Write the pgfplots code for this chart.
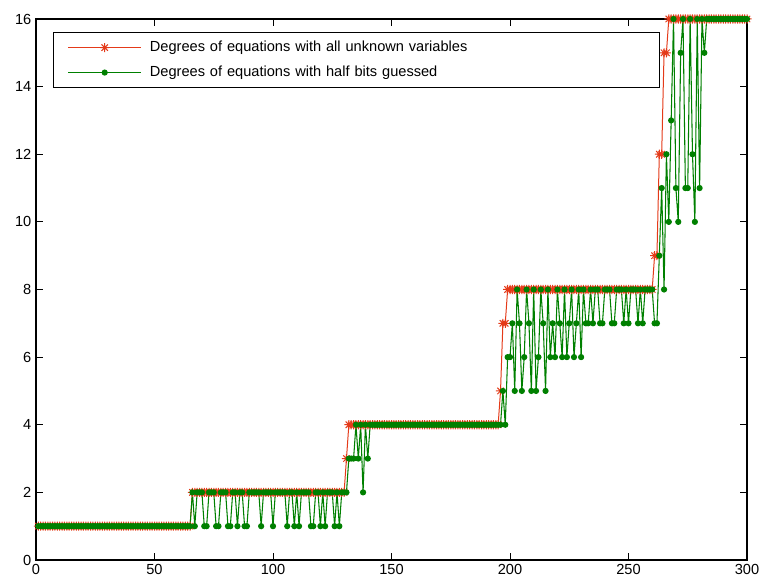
\documentclass[border=0pt]{standalone}
\usepackage{fontspec}
\setmainfont{Liberation Sans}
\usepackage{pgfplots}
\usepackage{pgfplotstable}
\pgfplotsset{compat=1.18}
\definecolor{mred}{RGB}{228,58,25}
\definecolor{mgreen}{RGB}{0,128,0}
\pgfdeclareplotmark{mstar}{%
 \pgfpathmoveto{\pgfqpoint{-\pgfplotmarksize}{0pt}}\pgfpathlineto{\pgfqpoint{\pgfplotmarksize}{0pt}}%
 \pgfpathmoveto{\pgfqpoint{0pt}{-\pgfplotmarksize}}\pgfpathlineto{\pgfqpoint{0pt}{\pgfplotmarksize}}%
 \pgfpathmoveto{\pgfqpoint{-.7071\pgfplotmarksize}{-.7071\pgfplotmarksize}}\pgfpathlineto{\pgfqpoint{.7071\pgfplotmarksize}{.7071\pgfplotmarksize}}%
 \pgfpathmoveto{\pgfqpoint{-.7071\pgfplotmarksize}{.7071\pgfplotmarksize}}\pgfpathlineto{\pgfqpoint{.7071\pgfplotmarksize}{-.7071\pgfplotmarksize}}%
 \pgfusepathqstroke}
\pgfplotstableread[row sep=\\]{
x r g\\
1 1 1\\ 2 1 1\\ 3 1 1\\ 4 1 1\\ 5 1 1\\ 6 1 1\\ 7 1 1\\ 8 1 1\\ 9 1 1\\ 10 1 1\\
11 1 1\\ 12 1 1\\ 13 1 1\\ 14 1 1\\ 15 1 1\\ 16 1 1\\ 17 1 1\\ 18 1 1\\ 19 1 1\\ 20 1 1\\
21 1 1\\ 22 1 1\\ 23 1 1\\ 24 1 1\\ 25 1 1\\ 26 1 1\\ 27 1 1\\ 28 1 1\\ 29 1 1\\ 30 1 1\\
31 1 1\\ 32 1 1\\ 33 1 1\\ 34 1 1\\ 35 1 1\\ 36 1 1\\ 37 1 1\\ 38 1 1\\ 39 1 1\\ 40 1 1\\
41 1 1\\ 42 1 1\\ 43 1 1\\ 44 1 1\\ 45 1 1\\ 46 1 1\\ 47 1 1\\ 48 1 1\\ 49 1 1\\ 50 1 1\\
51 1 1\\ 52 1 1\\ 53 1 1\\ 54 1 1\\ 55 1 1\\ 56 1 1\\ 57 1 1\\ 58 1 1\\ 59 1 1\\ 60 1 1\\
61 1 1\\ 62 1 1\\ 63 1 1\\ 64 1 1\\ 65 1 1\\ 66 2 2\\ 67 2 1\\ 68 2 2\\ 69 2 2\\ 70 2 2\\
71 2 1\\ 72 2 1\\ 73 2 2\\ 74 2 2\\ 75 2 2\\ 76 2 1\\ 77 2 1\\ 78 2 2\\ 79 2 2\\ 80 2 2\\
81 2 1\\ 82 2 1\\ 83 2 2\\ 84 2 2\\ 85 2 1\\ 86 2 2\\ 87 2 2\\ 88 2 1\\ 89 2 1\\ 90 2 2\\
91 2 2\\ 92 2 2\\ 93 2 2\\ 94 2 2\\ 95 2 1\\ 96 2 2\\ 97 2 2\\ 98 2 2\\ 99 2 2\\ 100 2 1\\
101 2 2\\ 102 2 2\\ 103 2 2\\ 104 2 2\\ 105 2 2\\ 106 2 1\\ 107 2 2\\ 108 2 2\\ 109 2 1\\ 110 2 2\\
111 2 1\\ 112 2 2\\ 113 2 2\\ 114 2 2\\ 115 2 2\\ 116 2 1\\ 117 2 1\\ 118 2 2\\ 119 2 2\\ 120 2 1\\
121 2 2\\ 122 2 1\\ 123 2 2\\ 124 2 2\\ 125 2 2\\ 126 2 1\\ 127 2 2\\ 128 2 1\\ 129 2 2\\ 130 2 2\\
131 3 2\\ 132 4 3\\ 133 4 3\\ 134 4 3\\ 135 4 4\\ 136 4 3\\ 137 4 4\\ 138 4 2\\ 139 4 4\\ 140 4 3\\
141 4 4\\ 142 4 4\\ 143 4 4\\ 144 4 4\\ 145 4 4\\ 146 4 4\\ 147 4 4\\ 148 4 4\\ 149 4 4\\ 150 4 4\\
151 4 4\\ 152 4 4\\ 153 4 4\\ 154 4 4\\ 155 4 4\\ 156 4 4\\ 157 4 4\\ 158 4 4\\ 159 4 4\\ 160 4 4\\
161 4 4\\ 162 4 4\\ 163 4 4\\ 164 4 4\\ 165 4 4\\ 166 4 4\\ 167 4 4\\ 168 4 4\\ 169 4 4\\ 170 4 4\\
171 4 4\\ 172 4 4\\ 173 4 4\\ 174 4 4\\ 175 4 4\\ 176 4 4\\ 177 4 4\\ 178 4 4\\ 179 4 4\\ 180 4 4\\
181 4 4\\ 182 4 4\\ 183 4 4\\ 184 4 4\\ 185 4 4\\ 186 4 4\\ 187 4 4\\ 188 4 4\\ 189 4 4\\ 190 4 4\\
191 4 4\\ 192 4 4\\ 193 4 4\\ 194 4 4\\ 195 4 4\\ 196 5 4\\ 197 7 5\\ 198 7 4\\ 199 8 6\\ 200 8 6\\
201 8 7\\ 202 8 5\\ 203 8 8\\ 204 8 7\\ 205 8 5\\ 206 8 6\\ 207 8 8\\ 208 8 7\\ 209 8 5\\ 210 8 8\\
211 8 5\\ 212 8 6\\ 213 8 8\\ 214 8 7\\ 215 8 5\\ 216 8 8\\ 217 8 6\\ 218 8 7\\ 219 8 6\\ 220 8 8\\
221 8 7\\ 222 8 6\\ 223 8 8\\ 224 8 6\\ 225 8 7\\ 226 8 8\\ 227 8 6\\ 228 8 7\\ 229 8 8\\ 230 8 6\\
231 8 8\\ 232 8 7\\ 233 8 7\\ 234 8 8\\ 235 8 7\\ 236 8 8\\ 237 8 8\\ 238 8 7\\ 239 8 7\\ 240 8 8\\
241 8 8\\ 242 8 8\\ 243 8 7\\ 244 8 7\\ 245 8 8\\ 246 8 8\\ 247 8 8\\ 248 8 7\\ 249 8 8\\ 250 8 7\\
251 8 8\\ 252 8 8\\ 253 8 8\\ 254 8 7\\ 255 8 8\\ 256 8 7\\ 257 8 8\\ 258 8 8\\ 259 8 8\\ 260 8 8\\
261 9 7\\ 262 9 7\\ 263 12 9\\ 264 12 11\\ 265 15 8\\ 266 15 12\\ 267 16 10\\ 268 16 13\\ 269 16 16\\ 270 16 11\\
271 16 10\\ 272 16 15\\ 273 16 16\\ 274 16 11\\ 275 16 11\\ 276 16 16\\ 277 16 12\\ 278 16 10\\ 279 16 16\\ 280 16 11\\
281 16 16\\ 282 16 15\\ 283 16 16\\ 284 16 16\\ 285 16 16\\ 286 16 16\\ 287 16 16\\ 288 16 16\\ 289 16 16\\ 290 16 16\\
291 16 16\\ 292 16 16\\ 293 16 16\\ 294 16 16\\ 295 16 16\\ 296 16 16\\ 297 16 16\\ 298 16 16\\ 299 16 16\\ 300 16 16\\
}\data
\begin{document}
\begin{tikzpicture}
\begin{axis}[
  scale only axis,
  width=533.25bp, height=405.75bp,
  xmin=0, xmax=300, ymin=0, ymax=16,
  xtick={0,50,...,300}, ytick={0,2,...,16},
  tick align=inside, tick pos=both, major tick length=5bp,
  axis line style={line width=0.8bp},
  every tick/.style={black, line width=0.6bp},
  tick label style={font=\fontsize{11}{13}\selectfont},
  /pgf/number format/assume math mode=true,
  clip=false,
  legend cell align=left,
  legend image code/.code={\draw[mark repeat=2,mark phase=2,#1] plot coordinates {(0bp,0bp) (27.5bp,0bp) (55bp,0bp)};},
  legend style={at={(0,1)}, anchor=north west, xshift=12.75bp, yshift=-9.75bp,
    draw=black, line width=0.75bp, inner xsep=10.5bp, inner ysep=2bp,
    font=\fontsize{11}{13}\selectfont, column sep=6bp, row sep=0bp,
    nodes={inner xsep=0bp, inner ysep=4.1bp, text height=8bp, text depth=2.5bp, text width=372bp, align=left}},
]
\addplot[color=mred, line width=0.75bp, mark=mstar, mark size=3.4bp, mark options={line width=0.75bp}] table[x=x,y=r]{\data};
\addlegendentry{Degrees of equations with all unknown variables}
\addplot[color=mgreen, line width=0.8bp, mark=*, mark size=1.9bp] table[x=x,y=g]{\data};
\addlegendentry{Degrees of equations with half bits guessed}
\end{axis}
\pgfresetboundingbox
\path ([shift={(-27bp,-18bp)}]current axis.south west) rectangle ([shift={(9.75bp,14.25bp)}]current axis.north east);
\end{tikzpicture}
\end{document}
